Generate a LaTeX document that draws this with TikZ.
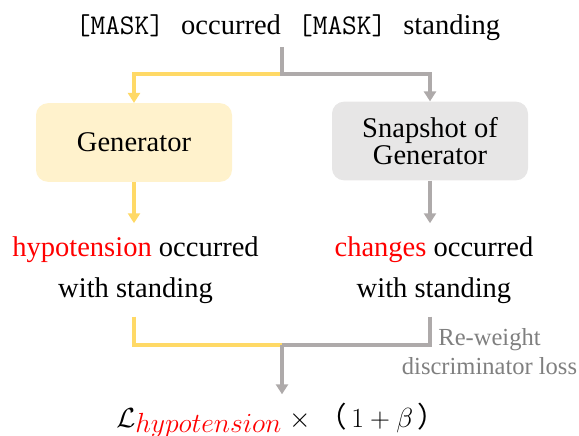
\documentclass[tikz,border=0pt]{standalone}
\usepackage{amsmath, amssymb}
\usepackage{fontspec}
\setmainfont{Liberation Serif}
\newfontfamily\cjkfont{Noto Sans CJK SC}
\usepackage{tikz}
\usetikzlibrary{positioning, arrows.meta, calc}
\usepackage{xcolor}

\definecolor{genyellow}{HTML}{FFD966}
\definecolor{genfill}{HTML}{FFF2CC}
\definecolor{snapgray}{HTML}{AEAAAA}
\definecolor{snapfill}{HTML}{E7E6E6}
\definecolor{notegray}{HTML}{7F7F7F}

\newcommand{\masktok}{{\fontsize{21.4}{22}\selectfont\ttfamily [MASK]}}

\begin{document}
\begin{tikzpicture}[
    x=0.75pt, y=-0.75pt,
    font=\fontsize{21.4}{25}\selectfont,
    model/.style={rounded corners=9pt, minimum width=147pt, minimum height=59pt,
                  align=center, font=\fontsize{21.4}{20}\selectfont},
    sample/.style={align=center, inner xsep=2pt, inner ysep=9.75pt,
                   font=\fontsize{21.4}{30.75}\selectfont},
    flow/.style={line width=3pt},
    tip/.style={-{Triangle[width=9pt, length=7.5pt]}}
]
    \useasboundingbox (0,0) rectangle (579,436);

    % Input and models
    \node[anchor=base, inner sep=4.5pt] (mask) at (288,34.5)
        {\masktok\hspace{0.6em}occurred\hspace{0.6em}\masktok\hspace{0.6em}standing};
    \node[model, fill=genfill] (gen) at (134,142.5) {Generator};
    \node[model, fill=snapfill] (snap) at (430,141) {Snapshot of\\Generator};
    \coordinate (fork) at (282,74);

    % Samples
    \node[sample] (outL) at (135.5,270) {\textcolor{red}{hypotension} occurred\\with standing};
    \node[sample] (outR) at (434,270) {\textcolor{red}{changes} occurred\\with standing};
    \coordinate (merge) at (282,345);

    % Loss
    \node[anchor=base west, inner sep=0pt] (loss) at (116,427)
        {$\mathcal{L}\raisebox{-4pt}{\fontsize{20}{20}\selectfont$\color{red}hypotension$}\;\times\;${\cjkfont （}$\,1+\beta\,${\cjkfont ）}};
    \node[text=notegray, align=center, font=\fontsize{18.4}{21.75}\selectfont] (note) at (489.5,352)
        {Re-weight\\discriminator loss};

    % Connections
    \draw[flow, genyellow, tip] (fork) -| (gen.north);
    \draw[flow, snapgray, tip] (mask.south -| fork) -- (fork) -| (snap.north);
    \draw[flow, genyellow, tip] (gen.south) -- (gen.south |- outL.north);
    \draw[flow, snapgray, tip] (snap.south) -- (snap.south |- outR.north);
    \draw[flow, genyellow] (gen.south |- outL.south) |- (merge);
    \draw[flow, snapgray] (snap.south |- outR.south) |- (merge);
    \draw[flow, snapgray, tip] (merge) -- ($(merge |- loss.north)+(0,-8)$);
\end{tikzpicture}
\end{document}
